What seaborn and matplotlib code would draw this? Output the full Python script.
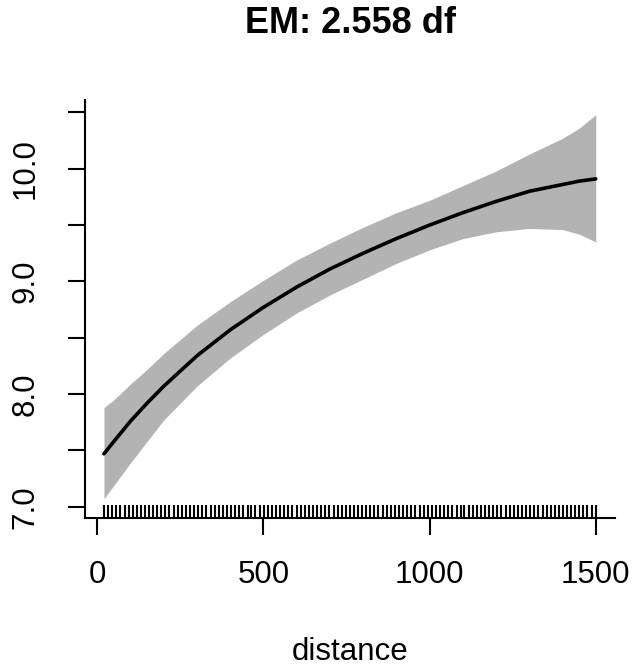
"""EM smooth of the response against distance, with a +/- 2 SE band and a rug."""

import matplotlib
matplotlib.use("Agg")
import matplotlib.pyplot as plt
import seaborn as sns
import pandas as pd

# ── Data ────────────────────────────────────────────────
distance = [20, 50, 100, 150, 200, 300, 400, 500, 600, 700, 800, 900,
            1000, 1100, 1200, 1300, 1400, 1450, 1500]
fit = [7.47, 7.58, 7.76, 7.92, 8.07, 8.34, 8.57, 8.77, 8.95, 9.11, 9.25, 9.38,
       9.50, 9.61, 9.71, 9.80, 9.86, 9.89, 9.91]
upper = [7.88, 7.95, 8.09, 8.22, 8.36, 8.61, 8.82, 9.01, 9.19, 9.34, 9.48, 9.61,
         9.72, 9.85, 9.98, 10.13, 10.27, 10.36, 10.48]
lower = [7.07, 7.19, 7.39, 7.58, 7.77, 8.07, 8.32, 8.53, 8.72, 8.88, 9.02, 9.16,
         9.28, 9.38, 9.44, 9.47, 9.46, 9.42, 9.35]

# observed distances shown in the rug
rug_x = [20, 33, 45, 57, 69, 82, 94, 106, 119, 131, 143, 156, 168, 180, 193,
         205, 217, 230, 242, 254, 267, 279, 291, 304, 316, 328, 341, 353, 365,
         378, 390, 402, 415, 427, 439, 452, 464, 476, 489, 501, 513, 526, 538,
         550, 563, 575, 587, 600, 612, 624, 637, 649, 661, 674, 686, 698, 711,
         723, 735, 748, 760, 772, 785, 797, 809, 822, 834, 846, 859, 871, 883,
         896, 908, 920, 933, 945, 957, 970, 982, 994, 1007, 1019, 1031, 1044,
         1056, 1068, 1081, 1093, 1105, 1118, 1130, 1142, 1155, 1167, 1179, 1192,
         1204, 1216, 1229, 1241, 1253, 1266, 1278, 1290, 1303, 1315, 1327, 1340,
         1352, 1364, 1377, 1389, 1401, 1414, 1426, 1438, 1451, 1463, 1475, 1488,
         1500]

y_ticks = [7.0, 7.5, 8.0, 8.5, 9.0, 9.5, 10.0, 10.5]
y_tick_labels = ["7.0", "", "8.0", "", "9.0", "", "10.0", ""]
x_ticks = [0, 500, 1000, 1500]

# ── Plot ─────────────────────────────────────────────────
sns.set_style("ticks")
plt.rcParams["font.family"] = ["Liberation Sans", "DejaVu Sans"]
plt.rcParams["text.color"] = "black"
plt.rcParams["axes.labelcolor"] = "black"

df = pd.DataFrame({"distance": distance, "fit": fit,
                   "upper": upper, "lower": lower})

fig = plt.figure(figsize=(6.33, 6.69), dpi=100)
ax = fig.add_axes([0.1343, 0.2257, 0.9716 - 0.1343, 0.8505 - 0.2257])

ax.fill_between(df["distance"], df["lower"], df["upper"],
                color="#b3b3b3", linewidth=0)
sns.lineplot(data=df, x="distance", y="fit", color="black",
             linewidth=2.6, ax=ax)
sns.rugplot(x=rug_x, height=0.031, color="black", linewidth=1.5, ax=ax)

ax.set_xlim(-37, 1558)
ax.set_ylim(6.90, 10.61)

ax.set_xticks(x_ticks)
ax.set_xticklabels([str(t) for t in x_ticks])
ax.set_yticks(y_ticks)
ax.set_yticklabels(y_tick_labels, rotation=90, va="center")

sns.despine(ax=ax)
for side in ["left", "bottom"]:
    ax.spines[side].set_linewidth(1.5)
    ax.spines[side].set_color("black")

ax.tick_params(axis="both", direction="out", length=12, width=1.5,
               colors="black", labelsize=22.5)
ax.tick_params(axis="x", pad=18)
ax.tick_params(axis="y", pad=20)

ax.set_xlabel("distance", fontsize=22.5, labelpad=34, color="black")
ax.set_ylabel("")
ax.set_title("EM: 2.558 df", fontsize=26, fontweight="bold", pad=48,
             color="black")

fig.savefig("out.png", dpi=100)
